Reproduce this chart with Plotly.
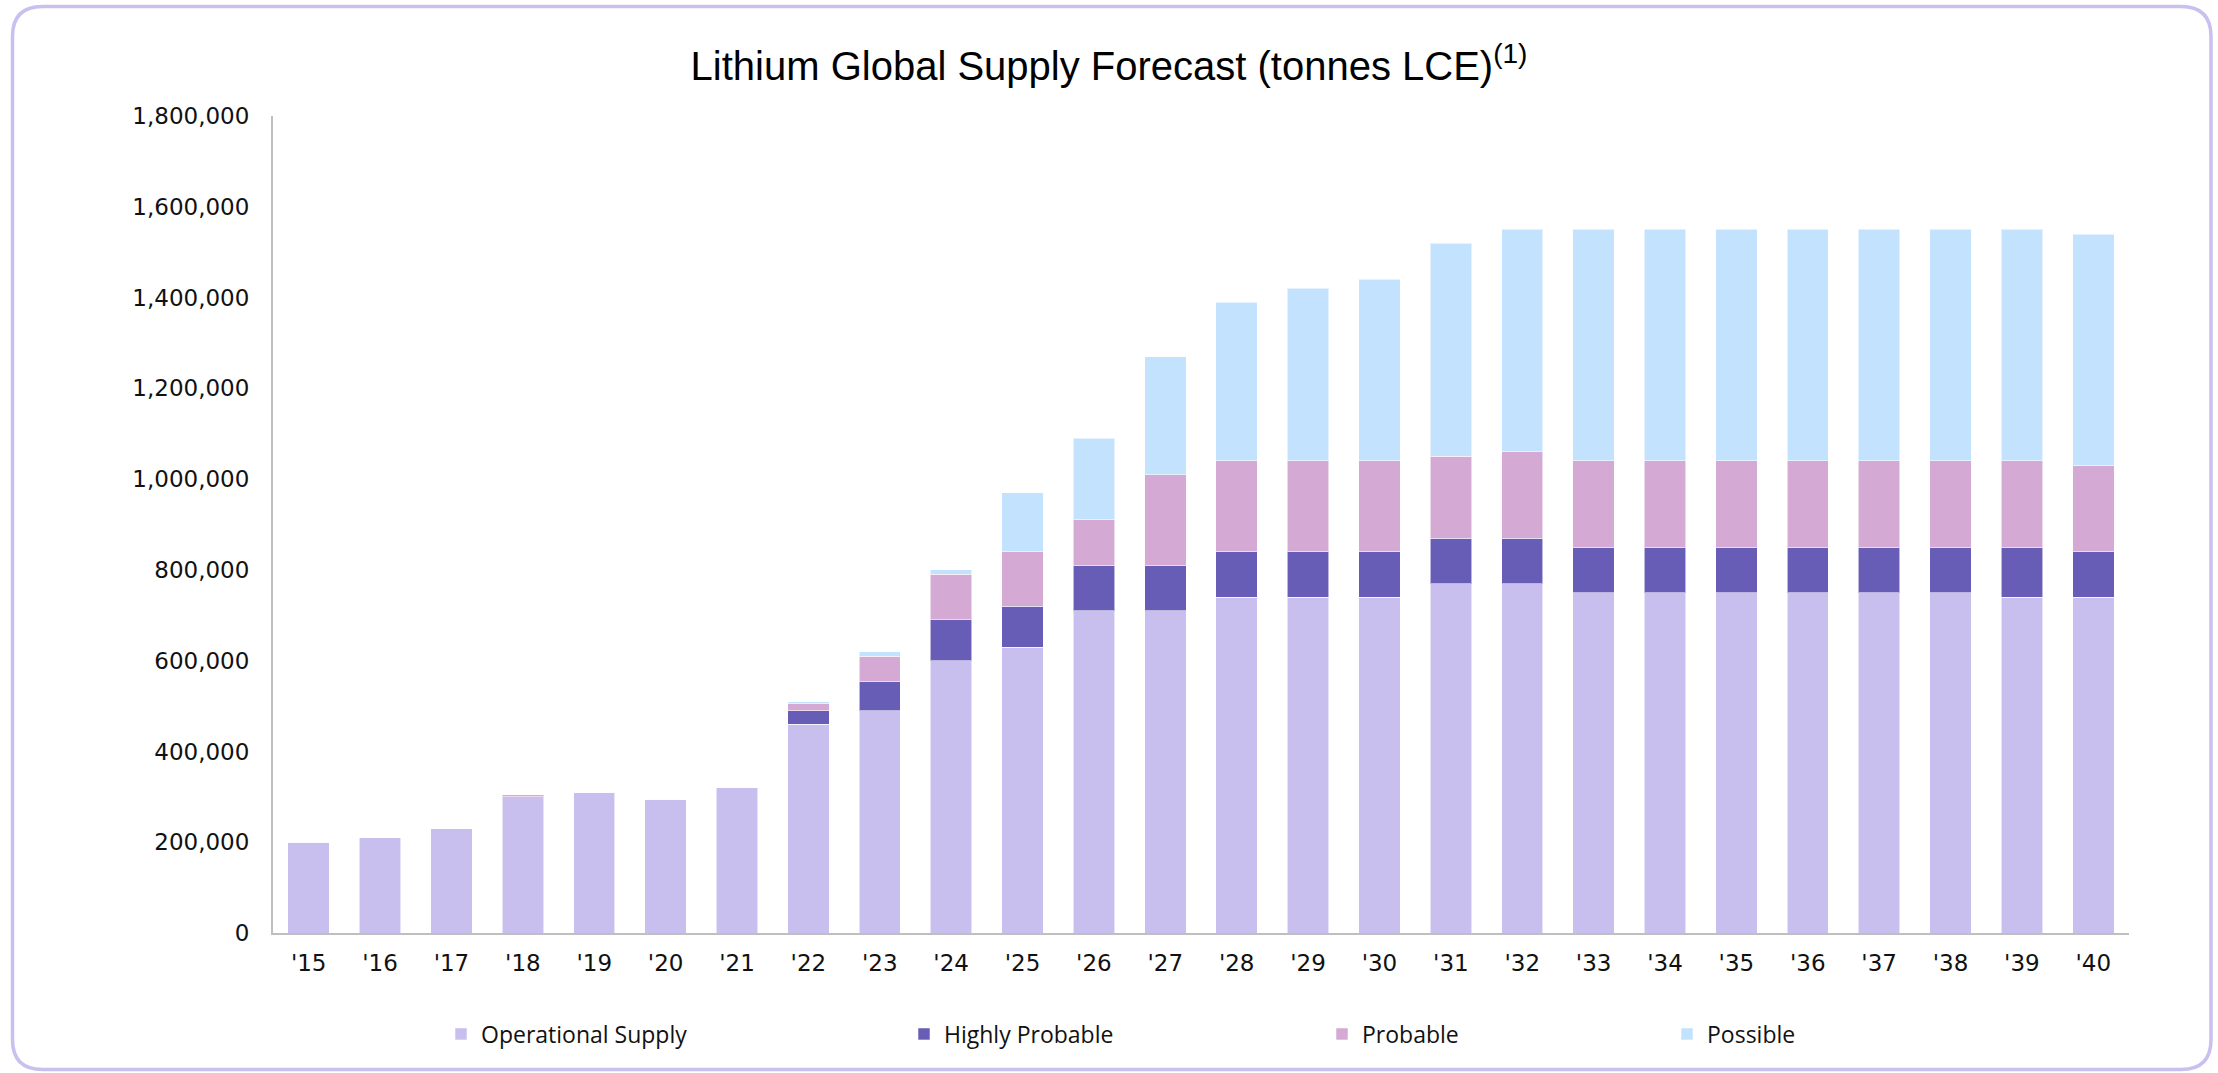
import plotly.graph_objects as go

# Lithium supply by project status, tonnes LCE
years = ["'15", "'16", "'17", "'18", "'19", "'20", "'21", "'22", "'23", "'24",
         "'25", "'26", "'27", "'28", "'29", "'30", "'31", "'32", "'33", "'34",
         "'35", "'36", "'37", "'38", "'39", "'40"]

operational = [200000, 210000, 230000, 300000, 310000, 295000, 320000, 460000, 490000, 600000,
               630000, 710000, 710000, 740000, 740000, 740000, 770000, 770000, 750000, 750000,
               750000, 750000, 750000, 750000, 740000, 740000]
highly_probable = [0, 0, 0, 0, 0, 0, 0, 30000, 65000, 90000,
                   90000, 100000, 100000, 100000, 100000, 100000, 100000, 100000, 100000, 100000,
                   100000, 100000, 100000, 100000, 110000, 100000]
probable = [0, 0, 0, 5000, 0, 0, 0, 15000, 55000, 100000,
            120000, 100000, 200000, 200000, 200000, 200000, 180000, 190000, 190000, 190000,
            190000, 190000, 190000, 190000, 190000, 190000]
possible = [0, 0, 0, 0, 0, 0, 0, 5000, 10000, 10000,
            130000, 180000, 260000, 350000, 380000, 400000, 470000, 490000, 510000, 510000,
            510000, 510000, 510000, 510000, 510000, 510000]

series_names = ["Operational Supply", "Highly Probable", "Probable", "Possible"]
series_values = [operational, highly_probable, probable, possible]
series_colors = ["#C8BFEE", "#675DB7", "#D4A9D3", "#C2E2FD"]

W, H = 2218, 1073
ML, MR, MT, MB = 273, 89, 116, 140
PW, PH = W - ML - MR, H - MT - MB


def px_x(x):
    return (x - ML) / PW


def px_y(y):
    return (H - MB - y) / PH


# each series gets its own legend so the entries can sit at fixed positions
legend_px = [461, 924, 1342, 1687]
legend_keys = ["legend", "legend2", "legend3", "legend4"]

fig = go.Figure()
for name, vals, col, key in zip(series_names, series_values, series_colors, legend_keys):
    fig.add_trace(go.Bar(
        x=years, y=vals, name=name, legend=key, showlegend=True,
        marker=dict(color=col, line=dict(color="rgba(255,255,255,0.55)", width=1)),
    ))

legend_font = dict(family="Open Sans, Liberation Sans, sans-serif", size=23, color="#111111")
legends = {}
for key, cx in zip(legend_keys, legend_px):
    legends[key] = dict(
        x=px_x(cx - 20), y=px_y(1034), xanchor="left", yanchor="middle",
        orientation="h", font=legend_font, bgcolor="rgba(0,0,0,0)",
        itemwidth=30, traceorder="normal", visible=True,
    )

# rounded frame around the whole chart
x0, x1, y0, y1, r = 12.5, 2211, 6.5, 1069.5, 30


def pt(x, y):
    return f"{px_x(x):.6f},{px_y(y):.6f}"


frame_path = (
    f"M {pt(x0 + r, y0)} L {pt(x1 - r, y0)} Q {pt(x1, y0)} {pt(x1, y0 + r)} "
    f"L {pt(x1, y1 - r)} Q {pt(x1, y1)} {pt(x1 - r, y1)} "
    f"L {pt(x0 + r, y1)} Q {pt(x0, y1)} {pt(x0, y1 - r)} "
    f"L {pt(x0, y0 + r)} Q {pt(x0, y0)} {pt(x0 + r, y0)} Z"
)

fig.update_layout(
    width=W, height=H,
    margin=dict(l=ML, r=MR, t=MT, b=MB, pad=0),
    showlegend=True,
    barmode="stack", bargap=0.42,
    plot_bgcolor="white", paper_bgcolor="white",
    title=dict(
        text="Lithium Global Supply Forecast (tonnes LCE)<sup>(1)</sup>",
        x=0.5, xref="container", xanchor="center",
        y=1 - 66 / H, yref="container", yanchor="middle",
        font=dict(family="Liberation Sans, Arial, sans-serif", size=40, color="#000000"),
    ),
    xaxis=dict(
        showline=True, linecolor="#BFBFBF", linewidth=2, showgrid=False,
        ticks="", ticklabelstandoff=8,
        tickfont=dict(family="DejaVu Sans, sans-serif", size=23, color="#111111"),
    ),
    yaxis=dict(
        range=[0, 1800000], dtick=200000, tickformat=",d",
        showline=True, linecolor="#BFBFBF", linewidth=2, showgrid=False,
        zeroline=False, ticks="", ticklabelstandoff=17,
        tickfont=dict(family="DejaVu Sans, sans-serif", size=23, color="#111111"),
    ),
    shapes=[dict(type="path", path=frame_path, xref="paper", yref="paper",
                 line=dict(color="#C9C0F0", width=3.5), layer="above")],
    **legends,
)

fig.write_html("out.html")
